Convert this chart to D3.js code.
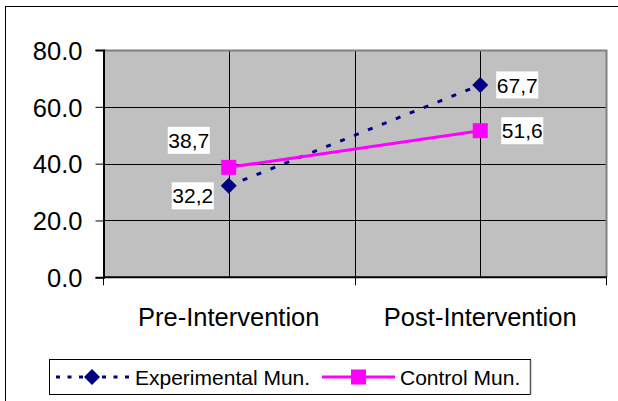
<!DOCTYPE html>
<html>
<head>
<meta charset="utf-8">
<script src="https://cdn.jsdelivr.net/npm/d3@7"></script>
<style>
  body { margin: 0; background: #fff; }
  svg { display: block; font-family: "Liberation Sans", Arial, sans-serif; }
</style>
</head>
<body>
<svg id="chart" width="618" height="401"></svg>
<script>
// values
var categories = ["Pre-Intervention", "Post-Intervention"];
var experimental = [32.2, 67.7];
var control = [38.7, 51.6];
var yTicks = [0, 20, 40, 60, 80];
var seriesNames = ["Experimental Mun.", "Control Mun."];

var svg = d3.select("#chart");
// note: "top" is taken by window.top, so plot edges get their own names
var plotLeft = 103, plotRight = 606, plotTop = 50, plotBottom = 277.3;

// outer chart frame (runs off the right and bottom edge)
svg.append("rect").attr("x", 5.5).attr("y", 6.5).attr("width", 700).attr("height", 500)
  .attr("fill", "#fff").attr("stroke", "#000").attr("stroke-width", 1);

var x = d3.scaleBand().domain(categories).range([plotLeft, plotRight]);
var y = d3.scaleLinear().domain([0, 80]).range([plotBottom, plotTop]);
var cx = function(c) { return x(c) + x.bandwidth() / 2; };

// plot background
svg.append("rect").attr("x", plotLeft).attr("y", plotTop)
  .attr("width", plotRight - plotLeft).attr("height", plotBottom - plotTop)
  .attr("fill", "#c0c0c0");

// horizontal gridlines
svg.selectAll(".hgrid").data(yTicks.filter(function(d){ return d > 0 && d < 80; })).enter().append("line")
  .attr("x1", plotLeft).attr("x2", plotRight)
  .attr("y1", function(d){ return Math.round(y(d)) + 0.5; })
  .attr("y2", function(d){ return Math.round(y(d)) + 0.5; })
  .attr("stroke", "#000").attr("stroke-width", 1);

// vertical gridlines: category centres and the boundary between them
var vlines = categories.map(cx).concat([x(categories[1])]);
svg.selectAll(".vgrid").data(vlines).enter().append("line")
  .attr("x1", function(d){ return Math.round(d) + 0.5; })
  .attr("x2", function(d){ return Math.round(d) + 0.5; })
  .attr("y1", plotTop).attr("y2", plotBottom)
  .attr("stroke", "#000").attr("stroke-width", 1);

// grey frame top/right
svg.append("path")
  .attr("d", "M" + plotLeft + "," + (plotTop + 0.5) + "H" + (plotRight + 0.5) + "V" + plotBottom)
  .attr("fill", "none").attr("stroke", "#808080").attr("stroke-width", 2);

// y axis
var yAxis = d3.axisLeft(y).tickValues(yTicks).tickFormat(d3.format(".1f")).tickSize(8).tickPadding(13);
var gy = svg.append("g").attr("transform", "translate(" + (plotLeft + 0.5) + ",0)").call(yAxis);
gy.select(".domain").attr("stroke", "#000").attr("stroke-width", 2);
gy.selectAll(".tick line").attr("stroke", "#000");
gy.selectAll(".tick text").attr("font-size", 25.5).attr("fill", "#000")
  .attr("font-family", "Liberation Sans, Arial, sans-serif").attr("dy", "0.36em");

// x axis line and ticks at band boundaries
svg.append("line").attr("x1", plotLeft).attr("x2", plotRight + 1).attr("y1", plotBottom).attr("y2", plotBottom)
  .attr("stroke", "#000").attr("stroke-width", 2);
var bounds = [x(categories[0]), x(categories[1]), x(categories[1]) + x.bandwidth()];
svg.selectAll(".xtick").data(bounds).enter().append("line")
  .attr("x1", function(d){ return Math.round(d) + 0.5; })
  .attr("x2", function(d){ return Math.round(d) + 0.5; })
  .attr("y1", plotBottom).attr("y2", plotBottom + 8)
  .attr("stroke", "#000").attr("stroke-width", 1);
svg.selectAll(".xlab").data(categories).enter().append("text")
  .attr("x", cx).attr("y", 326)
  .attr("text-anchor", "middle").attr("font-size", 25.5).attr("fill", "#000")
  .text(function(d){ return d; });

// series
var line = d3.line().x(function(d, i){ return cx(categories[i]); }).y(function(d){ return y(d); });

svg.append("path").datum(experimental).attr("d", line)
  .attr("fill", "none").attr("stroke", "#000080").attr("stroke-width", 3).attr("stroke-dasharray", "5,10");
svg.append("path").datum(control).attr("d", line)
  .attr("fill", "none").attr("stroke", "#ff00ff").attr("stroke-width", 3);

var diamond = function(px, py, r) {
  return "M" + px + "," + (py - r) + "L" + (px + r) + "," + py + "L" + px + "," + (py + r) + "L" + (px - r) + "," + py + "Z";
};

svg.selectAll(".dmark").data(experimental).enter().append("path")
  .attr("d", function(d, i){ return diamond(cx(categories[i]), y(d), 8); })
  .attr("fill", "#000080");
svg.selectAll(".smark").data(control).enter().append("rect")
  .attr("x", function(d, i){ return cx(categories[i]) - 7.5; })
  .attr("y", function(d){ return y(d) - 7.5; })
  .attr("width", 15).attr("height", 15).attr("fill", "#ff00ff");

// data labels with white boxes
var labelOffsets = {
  exp: [[-36, 10], [37, 0]],
  ctl: [[-40, -27], [42, 0]]
};
function addLabels(values, offs) {
  values.forEach(function(v, i) {
    var lx = cx(categories[i]) + offs[i][0], ly = y(v) + offs[i][1];
    svg.append("rect").attr("x", lx - 21).attr("y", ly - 13.5).attr("width", 42).attr("height", 27).attr("fill", "#fff");
    svg.append("text").attr("x", lx).attr("y", ly).attr("dy", "0.36em")
      .attr("text-anchor", "middle").attr("font-size", 21).attr("fill", "#000")
      .text(String(v.toFixed(1)).replace(".", ","));
  });
}
addLabels(experimental, labelOffsets.exp);
addLabels(control, labelOffsets.ctl);

// legend
var lg = svg.append("g");
lg.append("rect").attr("x", 49.5).attr("y", 359.5).attr("width", 481).attr("height", 35)
  .attr("fill", "#fff").attr("stroke", "#000").attr("stroke-width", 1);
lg.append("line").attr("x1", 530.5).attr("x2", 530.5).attr("y1", 360).attr("y2", 395)
  .attr("stroke", "#555").attr("stroke-width", 1.5);
var ly0 = 377;
lg.append("line").attr("x1", 56).attr("x2", 131).attr("y1", ly0).attr("y2", ly0)
  .attr("stroke", "#000080").attr("stroke-width", 3).attr("stroke-dasharray", "4,7.5");
lg.append("path").attr("d", diamond(92, ly0, 8)).attr("fill", "#000080");
lg.append("text").attr("x", 135).attr("y", ly0).attr("dy", "0.36em").attr("font-size", 21).attr("fill", "#000")
  .text(seriesNames[0]);
lg.append("line").attr("x1", 322).attr("x2", 395).attr("y1", ly0).attr("y2", ly0)
  .attr("stroke", "#ff00ff").attr("stroke-width", 3);
lg.append("rect").attr("x", 351).attr("y", ly0 - 7.5).attr("width", 15).attr("height", 15).attr("fill", "#ff00ff");
lg.append("text").attr("x", 400).attr("y", ly0).attr("dy", "0.36em").attr("font-size", 21).attr("fill", "#000")
  .text(seriesNames[1]);
</script>
</body>
</html>
